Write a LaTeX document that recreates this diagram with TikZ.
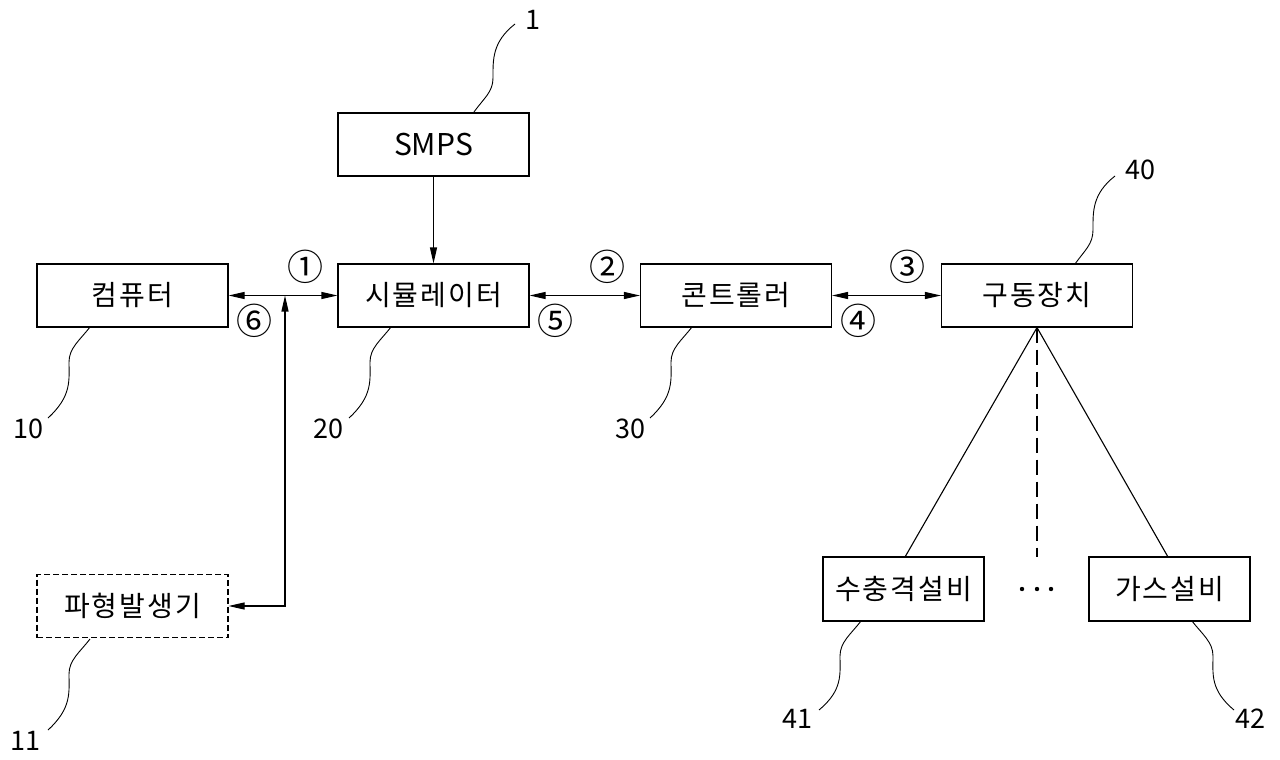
\documentclass[tikz,border=0pt]{standalone}
\usepackage{fontspec}
\setmainfont{Noto Sans CJK KR}
\usetikzlibrary{arrows.meta}
\begin{document}
\begin{tikzpicture}[x=1pt,y=-1pt,
  box/.style={draw, line width=1.1pt, minimum width=191pt, minimum height=63pt, inner sep=0pt, font=\fontsize{28}{32}\selectfont\addfontfeatures{LetterSpace=7}},
  sbox/.style={box, minimum width=161pt, minimum height=64pt},
  conn/.style={line width=1.1pt},
  arr/.style={conn, {Triangle[length=16pt,width=7pt]}-{Triangle[length=16pt,width=7pt]}},
  arrone/.style={conn, -{Triangle[length=16pt,width=7pt]}},
  lead/.style={line width=0.9pt},
  num/.style={font=\fontsize{27}{30}\selectfont, inner sep=0pt},
  circ/.style={font=\fontsize{36}{40}\selectfont, inner sep=0pt}]
\useasboundingbox (0,0) rectangle (1280,760);
\fill[white] (0,0) rectangle (1280,760);

\node[box, font=\fontsize{30}{34}\selectfont] (smps) at (433.5,144.5) {SMPS};
\node[box] (comp) at (132.5,295.5) {컴퓨터};
\node[box] (sim) at (433.5,295.5) {시뮬레이터};
\node[box] (ctrl) at (736,295.5) {콘트롤러};
\node[box] (drv) at (1037,295.5) {구동장치};
\node[box, dashed, dash pattern=on 6pt off 3pt] (wave) at (132.5,606) {파형발생기};
\node[sbox] (water) at (903.5,589) {수충격설비};
\node[sbox] (gas) at (1169.5,589) {가스설비};

% connectors
\draw[arrone] (smps.south) -- (sim.north);
\draw[arr] (comp.east) -- (sim.west);
\draw[arr] (sim.east) -- (ctrl.west);
\draw[arr] (ctrl.east) -- (drv.west);
\coordinate (j) at (285,295.5);
\draw[arr] (wave.east) -| (j);
\draw[conn] (drv.south) -- (905,557);
\draw[conn] (drv.south) -- (1168,557);
\coordinate (dend) at (1037,557);
\draw[conn, dash pattern=on 15pt off 7pt] (drv.south) -- (dend);
\fill (1022,589) circle (2.2pt) (1037,589) circle (2.2pt) (1051,589) circle (2.2pt);

% circled numbers
\node[circ] (c1) at (305,267) {①};
\node[circ] (c6) at (254,321) {⑥};
\node[circ] (c2) at (607,267) {②};
\node[circ] (c5) at (555,321) {⑤};
\node[circ] (c3) at (907,267) {③};
\node[circ] (c4) at (858,321) {④};

% reference labels and leaders
\node[num] (n1) at (533,20) {1};
\draw[lead] (474,112) .. controls (484,98) and (493,92) .. (493,78) .. controls (493,60) and (492,42) .. (515,24);
\node[num] (n40) at (1140,170) {40};
\draw[lead] (1075,264) .. controls (1085,250) and (1093,244) .. (1093,230) .. controls (1093,212) and (1092,194) .. (1115,176);
\node[num] (n10) at (28,429) {10};
\draw[lead] (90,327) .. controls (80,340) and (69,348) .. (69,362) .. controls (69,380) and (72,396) .. (48,418);
\node[num] (n20) at (328,429) {20};
\draw[lead] (391,327) .. controls (381,340) and (370,348) .. (370,362) .. controls (370,380) and (373,396) .. (349,418);
\node[num] (n30) at (630,429) {30};
\draw[lead] (692,327) .. controls (682,340) and (671,348) .. (671,362) .. controls (671,380) and (674,396) .. (650,418);
\node[num] (n11) at (25,741) {11};
\draw[lead] (90,639) .. controls (80,652) and (69,660) .. (69,674) .. controls (69,692) and (72,708) .. (48,730);
\node[num] (n41) at (797,719) {41};
\draw[lead] (861,621) .. controls (851,634) and (840,642) .. (840,656) .. controls (840,674) and (843,690) .. (819,710);
\node[num] (n42) at (1250,719) {42};
\draw[lead] (1192,621) .. controls (1202,634) and (1213,642) .. (1213,656) .. controls (1213,674) and (1210,690) .. (1234,710);
\end{tikzpicture}
\end{document}
